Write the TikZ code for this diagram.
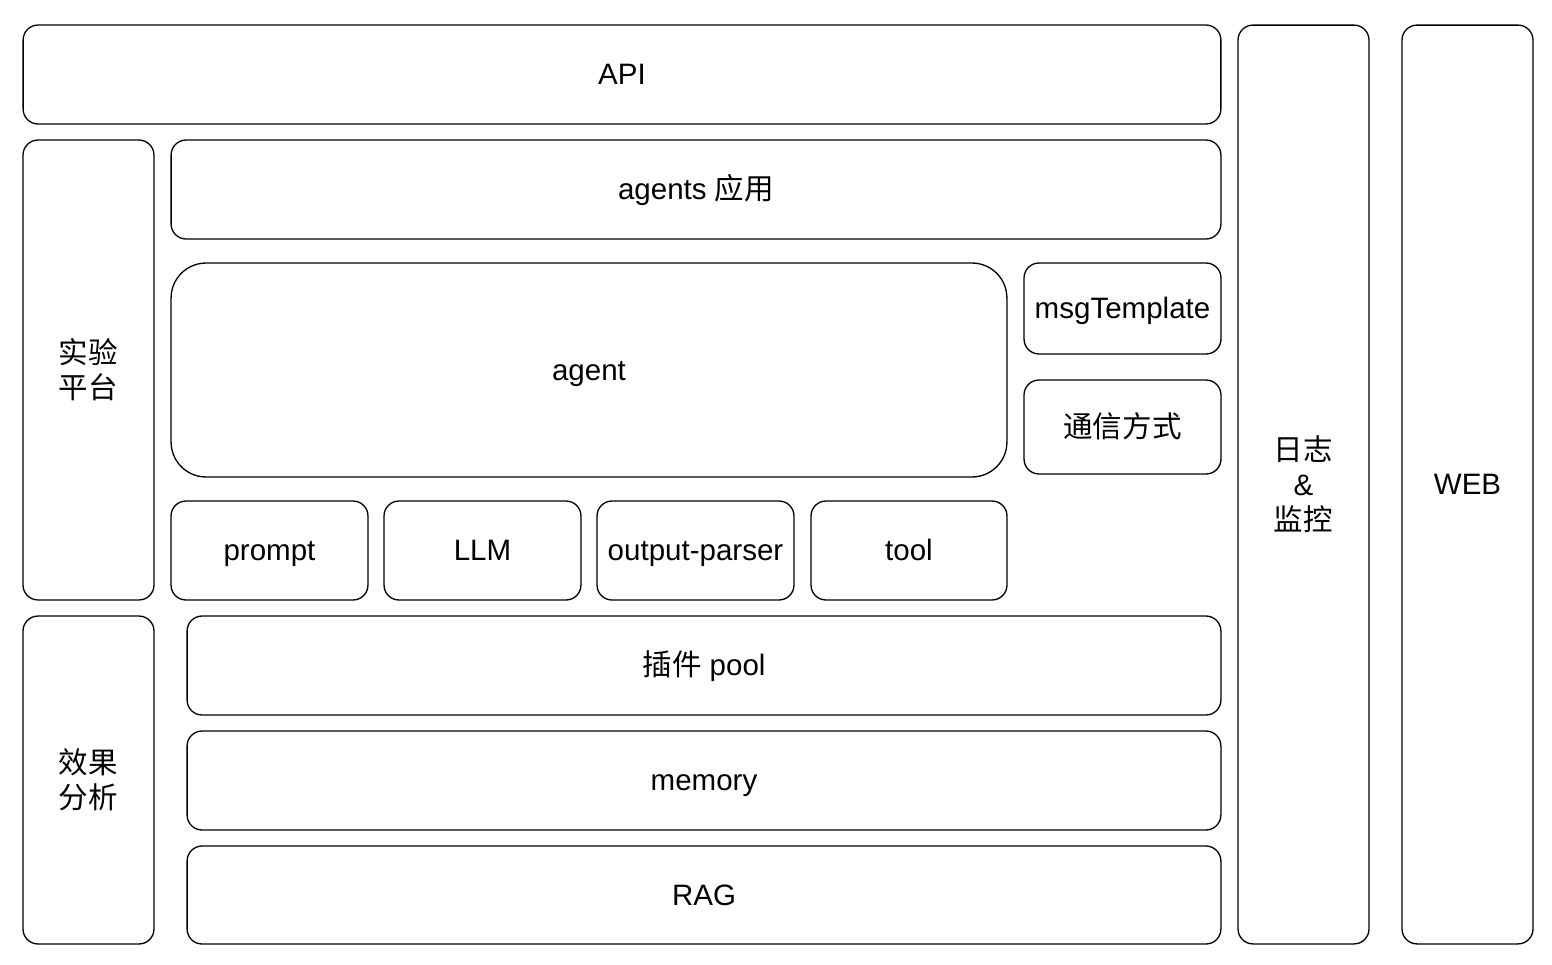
\documentclass[tikz,border=0pt]{standalone}
\usepackage{fontspec}
\setmainfont{Liberation Sans}
\newfontfamily\cjk{Noto Sans CJK SC}
\usetikzlibrary{positioning}
\definecolor{ink}{HTML}{000000}
\tikzset{
  font=\fontsize{16.8}{20}\selectfont,
  blk/.style={draw=ink, line width=.75pt, rounded corners=.3cm,
              inner sep=0pt, align=center, text=ink},
  line/.style={text height=.5cm, text depth=.1cm},
  wide/.style={blk, line, minimum height=1.98cm},
  small/.style={blk, line, minimum width=3.94cm},
  side/.style={blk, minimum width=2.62cm}
}

\begin{document}
\begin{tikzpicture}[x=.02cm,y=-.02cm]
\useasboundingbox (0,0) rectangle (1552,964);

% Top row and the two full-height columns on the right.
\node[wide, minimum width=23.96cm] (api) at (622,74.5) {API};
\node[side, minimum height=18.38cm] (log) at (1303.5,484.5)
  {{\cjk 日志}\\\&\\{\cjk 监控}};
\node[side, line, minimum height=18.38cm] (web) at (1467.5,484.5) {WEB};

% Left column.
\node[side, minimum height=9.2cm] (lab) at (88.5,370) {{\cjk 实验}\\{\cjk 平台}};
\node[side, minimum height=6.56cm] (eval) at (88.5,780) {{\cjk 效果}\\{\cjk 分析}};

% Application and agent core.
\node[wide, minimum width=21cm] (apps) at (696,189.5) {agents {\cjk 应用}};
\node[blk, line, rounded corners=.7cm, minimum width=16.72cm, minimum height=4.28cm]
  (agent) at (589,370) {agent};
\node[small, minimum height=1.82cm] (msgtpl) at (1122.5,308.5) {msgTemplate};
\node[small, minimum height=1.88cm] (comm) at (1122.5,427) {\cjk 通信方式};

% Agent parts.
\node[small, minimum height=1.98cm] (prompt) at (269.5,550.5) {prompt};
\node[small, minimum height=1.98cm] (llm) at (482.5,550.5) {LLM};
\node[small, minimum height=1.98cm] (parser) at (695.5,550.5) {output-parser};
\node[small, minimum height=1.98cm, minimum width=3.92cm] (tool) at (909,550.5) {tool};

% Lower layers.
\node[wide, minimum width=20.68cm] (plugin) at (704,665.5) {{\cjk 插件} pool};
\node[wide, minimum width=20.68cm] (memory) at (704,780.5) {memory};
\node[wide, minimum width=20.68cm, minimum height=1.96cm] (rag) at (704,895) {RAG};

\end{tikzpicture}
\end{document}
